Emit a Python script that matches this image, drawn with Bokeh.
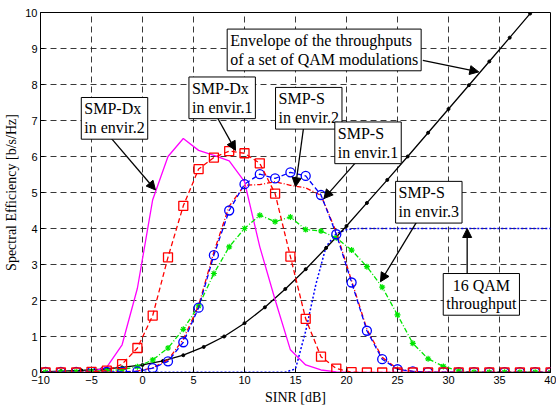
from bokeh.plotting import figure
from bokeh.models import Label, Arrow, NormalHead, FixedTicker
from bokeh.embed import file_html
from bokeh.resources import INLINE

# ---------------- data ----------------
snr = [-9.5, -8, -6.5, -5, -3.5, -2, -0.5, 1, 2.5, 4, 5.5, 7, 8.5, 10, 11.5, 13,
       14.5, 16, 17.5, 19, 20.5, 22, 23.5, 25, 26.5, 28, 29.5, 31, 32.5, 34,
       35.5, 37, 38.5, 40]

smp_dx_env1 = [0, 0, 0, 0.02, 0.05, 0.23, 0.68, 1.58, 3.2, 4.63, 5.65, 5.97, 6.15,
               6.09, 5.81, 4.97, 3.22, 1.49, 0.44, 0.11, 0.01, 0, 0, 0, 0, 0, 0,
               0, 0, 0, 0, 0, 0, 0]
smp_dx_env2 = [0, 0, 0, 0.02, 0.15, 0.77, 2.34, 4.8, 6.0, 6.5, 6.17, 6.03, 5.88,
               5.3, 3.49, 2.02, 0.63, 0.21, 0.07, 0.02, 0, 0, 0, 0, 0, 0, 0,
               0, 0, 0, 0, 0, 0, 0]
smp_s_env1 = [0.02, 0.02, 0.02, 0.02, 0.02, 0.02, 0.03, 0.12, 0.31, 0.84, 1.8,
              3.26, 4.5, 5.23, 5.51, 5.39, 5.56, 5.46, 4.93, 3.84, 2.5, 1.16,
              0.37, 0.09, 0.03, 0.01, 0.01, 0.01, 0.01, 0.01, 0.01, 0.01, 0.01, 0.01]
smp_s_env2 = [0, 0, 0, 0.01, 0.01, 0.02, 0.04, 0.13, 0.35, 0.92, 1.86, 3.35, 4.62,
              5.2, 5.22, 5.3, 5.2, 5.13, 4.92, 3.9, 2.55, 1.2, 0.42, 0.1, 0.03,
              0.01, 0, 0, 0, 0, 0, 0, 0, 0]
smp_s_env3 = [0.01, 0.01, 0.02, 0.03, 0.05, 0.08, 0.16, 0.35, 0.68, 1.2, 1.85,
              2.75, 3.49, 4.0, 4.37, 4.19, 4.32, 3.97, 3.93, 3.74, 3.4, 2.94,
              2.37, 1.6, 0.81, 0.38, 0.17, 0.04, 0.01, 0.01, 0.01, 0.01, 0.01, 0.01]

env_snr = [-10, -8, -6, -4, -2, 0, 2, 4, 6, 8, 10, 12, 14, 16, 18, 20, 22, 24,
           26, 28, 30, 32, 34, 36, 38, 40]
envelope = [0.02, 0.04, 0.06, 0.09, 0.14, 0.21, 0.32, 0.48, 0.71, 1.0, 1.37,
            1.81, 2.32, 2.87, 3.46, 4.07, 4.71, 5.35, 6.0, 6.66, 7.32, 7.98,
            8.64, 9.3, 9.97, 10.63]

qam_snr = [-10, 14, 15, 16, 17, 18, 19, 20, 21, 40]
qam16 = [0, 0.01, 0.1, 1.15, 2.45, 3.5, 3.86, 3.97, 4.0, 4.0]

x_ticks = [-10, -5, 0, 5, 10, 15, 20, 25, 30, 35, 40]
y_ticks = [0, 1, 2, 3, 4, 5, 6, 7, 8, 9, 10]

# ---------------- figure ----------------
p = figure(width=556, height=407, x_range=(-10, 40), y_range=(0, 10),
           output_backend="svg", toolbar_location=None,
           min_border_left=40, min_border_right=6, min_border_top=12,
           min_border_bottom=34)
p.background_fill_color = "white"
p.border_fill_color = "white"
p.outline_line_color = "black"
p.outline_line_width = 1

p.xaxis.ticker = FixedTicker(ticks=x_ticks)
p.yaxis.ticker = FixedTicker(ticks=y_ticks)
p.xaxis.axis_label = "SINR [dB]"
p.yaxis.axis_label = "Spectral Efficiency [b/s/Hz]"
for ax in (p.xaxis, p.yaxis):
    ax.axis_label_text_font = "Liberation Serif"
    ax.axis_label_text_font_size = "14px"
    ax.axis_label_text_font_style = "normal"
    ax.axis_label_text_color = "black"
    ax.major_label_text_font = "Liberation Sans"
    ax.major_label_text_font_size = "11px"
    ax.major_label_text_color = "black"
    ax.major_tick_in = 4
    ax.major_tick_out = 0
    ax.minor_tick_line_color = None
    ax.major_tick_line_color = "black"
    ax.axis_line_color = "black"
    ax.major_label_standoff = 3
    ax.axis_label_standoff = 3

p.grid.grid_line_color = "#222222"
p.grid.grid_line_dash = "6 4"
p.grid.grid_line_width = 0.9

# ---------------- series ----------------
p.line(qam_snr, qam16, line_color="#0000ff", line_dash="2 2", line_width=1.5)
p.line(env_snr, envelope, line_color="black", line_width=1.3)
p.scatter(env_snr, envelope, marker="circle", size=3, color="black")
p.line(snr, smp_dx_env2, line_color="#ff00ff", line_width=1.3)
p.line(snr, smp_s_env3, line_color="#00e600", line_dash="5 2 1 2", line_width=1.3)
p.scatter(snr, smp_s_env3, marker="asterisk", size=6, line_color="#00e600", line_width=1.2)
p.line(snr, smp_s_env2, line_color="#ff0000", line_dash="5 2 1 2", line_width=1.3)
p.line(snr, smp_s_env1, line_color="#0000ff", line_dash="5 3", line_width=1.3)
p.scatter(snr, smp_s_env1, marker="circle", size=9, line_color="#0000ff",
          fill_color=None, line_width=1.3)
p.line(snr, smp_dx_env1, line_color="#ff0000", line_dash="5 3", line_width=1.3)
p.scatter(snr, smp_dx_env1, marker="square", size=9, line_color="#ff0000",
          fill_color=None, line_width=1.3)

# ---------------- annotations ----------------
arrows = [
    ((-3.14, 6.53), (1.27, 5.07)),
    ((7.32, 7.09), (9.12, 6.17)),
    ((27.48, 8.67), (32.97, 8.35)),
    ((15.81, 6.84), (15.0, 5.16)),
    ((21.11, 5.90), (17.78, 4.83)),
    ((27.09, 4.28), (23.33, 2.52)),
    ((31.83, 2.64), (31.83, 4.0)),
]
for (x0, y0), (x1, y1) in arrows:
    p.add_layout(Arrow(x_start=x0, y_start=y0, x_end=x1, y_end=y1,
                       line_color="black", line_width=1.3,
                       end=NormalHead(size=9, fill_color="black", line_color="black")))

boxes = [
    (-2.745, 7.06, "SMP-Dx\nin envir.2", "left"),
    (7.81, 7.63, "SMP-Dx\nin envir.1", "left"),
    (17.81, 8.96, "Envelope of the throughputs\nof a set of QAM modulations", "left"),
    (16.30, 7.34, "SMP-S\nin envir.2", "left"),
    (22.11, 6.38, "SMP-S\nin envir.1", "left"),
    (28.07, 4.73, "SMP-S\nin envir.3", "left"),
    (33.22, 2.17, "16 QAM\nthroughput", "center"),
]
for x, y, t, al in boxes:
    p.add_layout(Label(x=x, y=y, text=t, anchor="center", text_align=al,
                       text_font="Liberation Serif", text_font_size="16px",
                       text_color="black", text_line_height=1.1,
                       background_fill_color="white", border_line_color="black",
                       border_line_width=1, padding=3))

open("out.html", "w").write(file_html(p, INLINE))
